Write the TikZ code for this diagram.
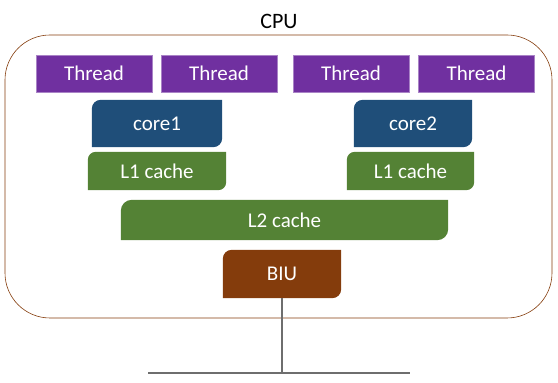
\documentclass[tikz,border=0pt]{standalone}
\usepackage{fontspec}
\setmainfont{Carlito}
\usetikzlibrary{backgrounds}

\definecolor{thrcol}{HTML}{7030A0}
\definecolor{corecol}{HTML}{1F4E79}
\definecolor{cachecol}{HTML}{548235}
\definecolor{biucol}{HTML}{843C0C}
\definecolor{buscol}{HTML}{6E6E6E}

\tikzset{
    unit/.style={text=white,font=\fontsize{21}{24}\selectfont,inner sep=0pt},
    thread/.style={unit,fill=thrcol,draw=thrcol!60!white,line width=0.6pt,minimum width=116pt,minimum height=37pt},
}

\begin{document}
\begin{tikzpicture}[x=1pt,y=1pt]
        \useasboundingbox (0,0) rectangle (558,383);
        \node [font=\fontsize{22}{26}\selectfont] (cpu) at (279,362) {CPU};
        \draw [biucol,line width=0.6pt,rounded corners=45pt] (5,65) rectangle (552,348);

        \node [thread] (t1) at (94,309.5) {Thread};
        \node [thread] (t2) at (219,309.5) {Thread};
        \node [thread] (t3) at (351,309.5) {Thread};
        \node [thread] (t4) at (476.5,309.5) {Thread};

        \node [unit,minimum width=130pt,minimum height=47pt] (core1) at (157,259.5) {core1};
        \node [unit,minimum width=118pt,minimum height=47pt] (core2) at (413,259.5) {core2};
        \node [unit,minimum width=138pt,minimum height=38pt] (l1a) at (157,212) {L1 cache};
        \node [unit,minimum width=127pt,minimum height=38pt] (l1b) at (410.5,212) {L1 cache};
        \node [unit,minimum width=327pt,minimum height=40pt] (l2) at (284.5,163) {L2 cache};
        \node [unit,minimum width=118pt,minimum height=48pt] (biu) at (282,109) {BIU};

        % boxes with two round corners
        \begin{scope}[on background layer]
            \foreach \n/\c/\r in {core1/corecol/9pt,core2/corecol/9pt,l1a/cachecol/8pt,l1b/cachecol/8pt,l2/cachecol/11pt,biu/biucol/9pt}
                \fill [\c] (\n.south west) -- ([yshift=-\r]\n.north west) arc [start angle=180,end angle=90,radius=\r]
                    -- (\n.north east) -- ([yshift=\r]\n.south east) arc [start angle=0,end angle=-90,radius=\r] -- cycle;
        \end{scope}

        % bus
        \coordinate (busl) at (148,10);
        \coordinate (busr) at (410,10);
        \coordinate (busm) at (282,10);
        \draw [buscol,line width=1.2pt] (biu.south) -- (busm);
        \draw [buscol,line width=1.2pt] (busl) -- (busr);
    \end{tikzpicture}
\end{document}
